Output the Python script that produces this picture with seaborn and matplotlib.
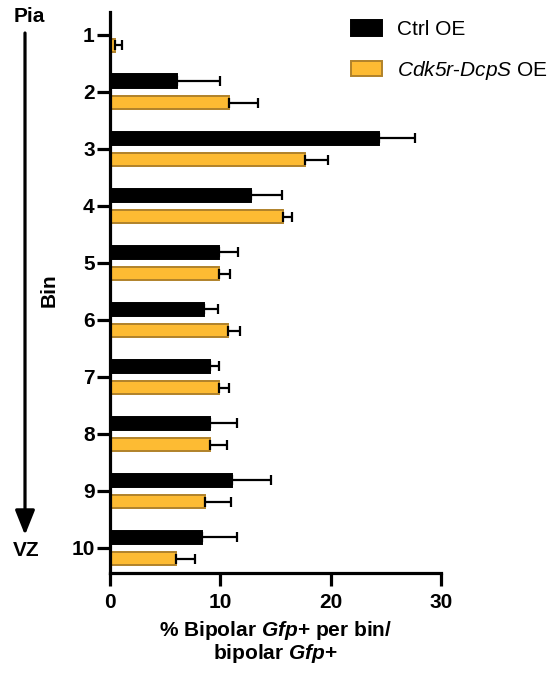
import matplotlib
matplotlib.use("Agg")
import matplotlib.pyplot as plt
from matplotlib.patches import Patch
import numpy as np
import pandas as pd
import seaborn as sns

# Per-bin distribution of bipolar Gfp+ cells (Pia -> VZ)
bins = ["1", "2", "3", "4", "5", "6", "7", "8", "9", "10"]
ctrl_mean = [0.0, 6.05, 24.4, 12.75, 9.9, 8.5, 9.07, 9.1, 11.1, 8.35]
ctrl_err = [0.0, 3.95, 3.25, 2.85, 1.7, 1.3, 0.85, 2.4, 3.5, 3.15]
dcps_mean = [0.45, 10.75, 17.7, 15.65, 9.9, 10.7, 9.9, 9.07, 8.65, 6.0]
dcps_err = [0.65, 2.65, 2.1, 0.85, 1.0, 1.05, 0.85, 1.55, 2.35, 1.7]
groups = ["Ctrl OE", "Cdk5r-DcpS OE"]
x_ticks = [0, 10, 20, 30]

sns.set_theme(style="ticks")
plt.rcParams["font.family"] = ["Liberation Sans", "DejaVu Sans"]
plt.rcParams["text.color"] = "black"
plt.rcParams["axes.labelcolor"] = "black"
plt.rcParams["axes.edgecolor"] = "black"
plt.rcParams["xtick.color"] = "black"
plt.rcParams["ytick.color"] = "black"
# Gene names are set in italics via mathtext (digits included)
plt.rcParams["mathtext.fontset"] = "custom"
plt.rcParams["mathtext.rm"] = "Liberation Sans:italic"
plt.rcParams["mathtext.it"] = "Liberation Sans:italic"
plt.rcParams["mathtext.bf"] = "Liberation Sans:bold"
plt.rcParams["mathtext.bfit"] = "Liberation Sans:italic:bold"

FS = 15

df = pd.DataFrame({
    "bin": bins * 2,
    "value": ctrl_mean + dcps_mean,
    "group": [groups[0]] * len(bins) + [groups[1]] * len(bins),
})
errs = {groups[0]: ctrl_err, groups[1]: dcps_err}

fill = {groups[0]: "#000000", groups[1]: "#FDBB33"}
edge = {groups[0]: "#000000", groups[1]: "#B0822A"}

fig = plt.figure(figsize=(5.6, 6.77), dpi=100)
ax = fig.add_axes([110 / 560, 1 - 573 / 677, (441 - 110) / 560, (573 - 12) / 677])

sns.barplot(data=df, x="value", y="bin", hue="group", order=bins,
            hue_order=groups, palette=fill, saturation=1, orient="h",
            width=0.75, gap=0.38, errorbar=None, legend=False, ax=ax)

for cont, g in zip(ax.containers, groups):
    for patch, e in zip(cont.patches, errs[g]):
        patch.set_edgecolor(edge[g])
        patch.set_linewidth(1.4)
        w = patch.get_width()
        yc = patch.get_y() + patch.get_height() / 2
        if w == 0 and e == 0:
            continue
        ax.errorbar([w], [yc], xerr=[[0], [e]], fmt="none", ecolor="black",
                    elinewidth=1.6, capsize=3.5, capthick=1.6, zorder=1)

ax.set_xlim(0, 30)
ax.set_ylim(len(bins) - 1 + 0.44, -0.4)
ax.set_xticks(x_ticks)
ax.set_xticklabels([str(t) for t in x_ticks])
ax.set_ylabel("")
ax.set_xlabel("% Bipolar $\\mathbfit{Gfp}$+ per bin/\nbipolar $\\mathbfit{Gfp}$+",
              fontsize=FS, fontweight="bold", labelpad=5, linespacing=1.0)

sns.despine(ax=ax)
for s in ("left", "bottom"):
    ax.spines[s].set_linewidth(2.3)
    ax.spines[s].set_color("black")
ax.tick_params(axis="both", width=2.3, length=9.5, labelsize=FS, color="black",
               labelcolor="black")
ax.tick_params(axis="x", pad=5)
ax.tick_params(axis="y", pad=1.5)
for lab in ax.get_xticklabels() + ax.get_yticklabels():
    lab.set_fontweight("bold")

handles = [Patch(facecolor=fill[g], edgecolor=edge[g], linewidth=1.4) for g in groups]
labels = ["Ctrl OE", "$\\mathit{Cdk5r}$-$\\mathit{DcpS}$ OE"]
fig.legend(handles, labels, loc="upper left",
           bbox_to_anchor=(351 / 560, 1 - 20 / 677), frameon=False,
           fontsize=FS, handlelength=1.5, handleheight=0.78,
           handletextpad=0.7, labelspacing=0.95, borderpad=0, borderaxespad=0)

# Orientation guide on the left: Pia at top, VZ at bottom
fig.text(29.5 / 560, 1 - 17 / 677, "Pia", fontsize=FS, fontweight="bold",
         ha="center", va="center")
fig.text(26 / 560, 1 - 550 / 677, "VZ", fontsize=FS, fontweight="bold",
         ha="center", va="center")
fig.text(49 / 560, 1 - 290 / 677, "Bin", fontsize=FS, fontweight="bold",
         ha="center", va="center", rotation=90)
ax.annotate("", xy=(25 / 560, 1 - 535 / 677), xytext=(25 / 560, 1 - 33 / 677),
            xycoords="figure fraction", textcoords="figure fraction",
            arrowprops=dict(arrowstyle="-|>,head_length=0.75,head_width=0.3",
                            lw=2.3, color="black", mutation_scale=20,
                            shrinkA=0, shrinkB=0))

fig.savefig("out.png", dpi=100)
